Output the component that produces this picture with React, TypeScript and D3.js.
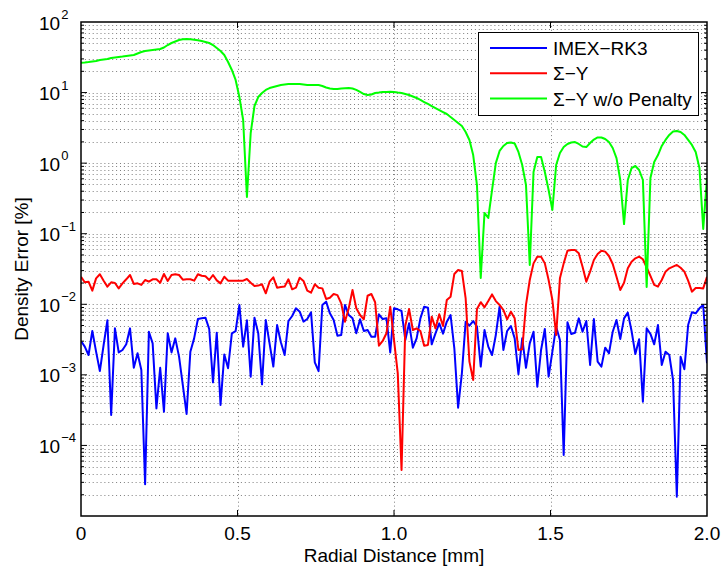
import React from "react";
import * as d3 from "d3";

// x ticks / labels
const xTicks = [0, 0.5, 1.0, 1.5, 2.0];
const xTickLabels = ["0", "0.5", "1.0", "1.5", "2.0"];
// labelled decades (exponents)
const yDecades = [2, 1, 0, -1, -2, -3, -4];
const seriesNames = ["IMEX\u2212RK3", "\u03A3\u2212Y", "\u03A3\u2212Y w/o Penalty"];
const seriesColors = ["#0000ff", "#ff0000", "#00ff00"];
// sample spacing of the radial grid (mm)
const xStep = 2 / 166;

const imexRk3 = [
  3.02e-3, 2.51e-3, 1.91e-3, 4.18e-3, 2.13e-3, 1.13e-3, 2.65e-3, 5.92e-3, 2.7e-4, 4.56e-3,
  2.08e-3, 2.25e-3, 2.71e-3, 4.56e-3, 1.26e-3, 2.02e-3, 1.17e-3, 2.81e-5, 4.09e-3, 2.79e-3,
  3.35e-4, 1.26e-3, 3.01e-4, 3.88e-3, 2.08e-3, 3.29e-3, 1.81e-3, 7.18e-4, 2.79e-4, 2.13e-3,
  3.29e-3, 6.18e-3, 6.32e-3, 6.46e-3, 4.47e-3, 7.83e-4, 3.96e-3, 3.74e-4, 1.95e-3, 1.24e-3,
  3.88e-3, 4.18e-3, 9.78e-3, 2.51e-3, 5.92e-3, 9.42e-4, 6.46e-3, 3.88e-3, 7.34e-4, 5.98e-3,
  2.79e-3, 1.31e-3, 5.08e-3, 2.89e-3, 1.91e-3, 5.79e-3,
  6.82e-3, 8.77e-3, 7.86e-3, 5.67e-3, 6.18e-3, 7.69e-3, 1.5e-3, 1.13e-3, 9.78e-3, 1.09e-2,
  7.44e-3, 5.98e-3, 3.59e-3, 3.67e-3, 9.78e-3, 7.05e-3, 6.32e-3, 3.88e-3, 6.12e-3, 4.18e-3,
  4.32e-3, 3.47e-3, 3.47e-3, 7.21e-3, 6.18e-3, 6.32e-3, 2.08e-3, 8.77e-3, 8.48e-3, 8.03e-3,
  3.12e-3, 5.37e-3, 2.43e-3, 3.29e-3, 6.32e-3, 9.25e-3, 8.95e-3, 2.71e-3, 3.88e-3, 5.37e-3,
  3.84e-3, 5.67e-3, 7.05e-3, 2.38e-3, 3.43e-4, 1.05e-3, 5.67e-3, 4.97e-3, 5.79e-3, 4.82e-3,
  1.31e-3, 4.32e-3, 2.51e-3, 1.91e-3, 3.67e-3, 9.25e-3,
  2.25e-3, 4.18e-3, 4.92e-3, 3.29e-3, 1.02e-3, 3.29e-3, 1.26e-3, 2.79e-3, 4.09e-3, 6.8e-4,
  2.25e-3, 4.47e-3, 9.42e-4, 2.13e-3, 4.82e-3, 3.12e-3, 7.31e-5, 5.55e-3, 3.8e-3, 3.96e-3,
  6.32e-3, 4.09e-3, 5.79e-3, 1.38e-3, 6.18e-3, 1.54e-3, 1.31e-3, 2.43e-3, 2.02e-3, 4.09e-3,
  5.98e-3, 3.22e-3, 6.32e-3, 7.61e-3, 4.18e-3, 1.97e-3, 3.19e-3, 4.17e-4, 4.56e-3, 3.8e-3,
  2.71e-3, 5.08e-3, 1.38e-3, 2.13e-3, 1.91e-3, 8.45e-4, 1.88e-5, 1.81e-3, 1.2e-3, 5.08e-3,
  7.69e-3, 7.44e-3, 8.77e-3, 9.78e-3, 1.46e-3,
];

const sigmaY = [
  0.0246, 0.0205, 0.0209, 0.0156, 0.0233, 0.0266, 0.0216, 0.0178, 0.0205, 0.02,
  0.0168, 0.0198, 0.0226, 0.026, 0.0194, 0.0198, 0.0188, 0.0221, 0.0209, 0.0226,
  0.0226, 0.0202, 0.0269, 0.0214, 0.026, 0.0266, 0.026, 0.0223, 0.0226, 0.0226,
  0.0216, 0.0266, 0.0254, 0.0249, 0.0221, 0.026, 0.0218, 0.0198, 0.0246, 0.0216,
  0.0216, 0.0216, 0.0216, 0.0216, 0.0228, 0.0202, 0.0182, 0.0184, 0.0192, 0.0143,
  0.0209, 0.0241, 0.0172, 0.0176, 0.0178, 0.0226,
  0.0163, 0.0172, 0.0238, 0.0214, 0.0156, 0.0146, 0.0192, 0.0172, 0.0168, 0.0119,
  0.0124, 0.014, 0.0135, 0.0103, 0.00567, 0.00877, 0.0159, 0.00877, 0.00705, 0.00612,
  0.0132, 0.014, 0.0107, 0.00259, 0.00302, 0.00388, 0.00925, 0.00312, 0.00105, 4.49e-5,
  0.00497, 0.00857, 0.00432, 0.00456, 0.00418, 0.00259, 0.00265, 0.00668, 0.00456, 0.00721,
  0.00492, 0.0115, 0.0128, 0.0269, 0.0306, 0.0296, 0.0121, 0.00154, 0.000845, 0.00857,
  0.0107, 0.00905, 0.0111, 0.0138, 0.0111, 0.00978,
  0.0083, 0.00612, 0.00786, 0.00632, 0.00225, 0.0023, 0.00978, 0.0221, 0.038, 0.0473,
  0.0473, 0.038, 0.0221, 0.0115, 0.00367, 0.0233, 0.038, 0.0575, 0.0587, 0.0587,
  0.0527, 0.0341, 0.0209, 0.029, 0.0424, 0.0515, 0.0575, 0.0557, 0.0483, 0.0372,
  0.0246, 0.0159, 0.0202, 0.0323, 0.0402, 0.0448, 0.0473, 0.0434, 0.0334, 0.0252,
  0.0188, 0.0178, 0.0221, 0.029, 0.0323, 0.0341, 0.0361, 0.033, 0.029, 0.0216,
  0.0151, 0.017, 0.017, 0.0168, 0.0246,
];

const sigmaYNoPenalty = [
  26.5, 26.7, 27.1, 27.6, 28.0, 28.9, 29.4, 29.9, 30.9, 31.4,
  31.9, 32.4, 33.0, 33.5, 34.1, 35.8, 37.6, 38.8, 39.4, 40.1,
  40.8, 41.4, 43.5, 47.2, 50.4, 52.9, 55.6, 57.0, 57.4, 56.9,
  56.0, 55.2, 53.8, 52.1, 50.4, 47.2, 42.8, 38.8, 34.1, 27.1,
  20.9, 15.1, 8.65, 4.09, 0.331, 2.67, 6.45, 8.65, 9.86, 10.9,
  11.6, 12.0, 12.4, 12.8, 13.0, 13.2, 13.2, 13.2, 13.2, 13.0,
  12.8, 12.8, 12.8, 12.8, 12.4, 11.8, 11.4, 11.2, 11.2, 11.4,
  11.5, 11.6, 11.4, 10.9, 10.2, 9.54, 9.24, 9.39, 9.86, 10.0,
  10.2, 10.2, 10.3, 10.2, 10.0, 9.86, 9.54, 9.24, 8.8, 8.38,
  7.85, 7.35, 6.89, 6.45, 6.04, 5.66, 5.3, 4.97, 4.51, 4.09,
  3.7, 3.36, 2.76, 2.13, 1.3, 0.49, 0.0236, 0.197, 0.167, 0.416,
  1.0, 1.49, 1.75, 1.93, 1.96, 1.9, 1.44, 0.941, 0.49, 0.036,
  0.749, 1.22, 1.22, 0.749, 0.416, 0.217, 0.941, 1.39, 1.69, 1.87,
  1.96, 1.99, 1.87, 1.72, 1.69, 1.93, 2.16, 2.31, 2.31, 2.2,
  1.99, 1.64, 1.18, 0.577, 0.137, 0.577, 0.853, 0.911, 0.8, 0.577,
  0.0176, 0.616, 1.04, 1.3, 1.75, 2.13, 2.51, 2.81, 2.85, 2.76,
  2.51, 2.13, 1.81, 1.44, 0.853, 0.117, 0.616,
];

const W = 722;
const H = 567;
const left = 81;
const right = 707;
const top = 22;
const bottom = 516;
const font = "'Liberation Sans', Arial, Helvetica, sans-serif";

export default function App() {
  const x = d3.scaleLinear().domain([0, 2]).range([left, right]);
  const y = d3.scaleLog().domain([1e-5, 1e2]).range([bottom, top]);

  const allSeries = [imexRk3, sigmaY, sigmaYNoPenalty];
  const line = d3
    .line<number>()
    .x((_, i) => x(i * xStep))
    .y((d) => y(d));

  // log grid values: 1..9 x 10^k
  const gridVals: number[] = [];
  for (let k = -5; k <= 1; k++) {
    for (let m = 1; m <= 9; m++) {
      const v = m * Math.pow(10, k);
      if (v > 1e-5) gridVals.push(v);
    }
  }

  return (
    <svg
      width={W}
      height={H}
      style={{ position: "absolute", left: 0, top: 0, background: "#fff" }}
      fontFamily={font}
    >
      <rect x={0} y={0} width={W} height={H} fill="#fff" />
      <defs>
        <clipPath id="plotClip">
          <rect x={left} y={top} width={right - left} height={bottom - top} />
        </clipPath>
      </defs>

      {/* horizontal dotted grid */}
      <g stroke="#000" strokeWidth={1} strokeDasharray="1,2.9" opacity={0.5}>
        {gridVals.map((v, i) => (
          <line key={i} x1={left} x2={right} y1={Math.round(y(v)) + 0.5} y2={Math.round(y(v)) + 0.5} />
        ))}
      </g>
      {/* vertical dotted grid at major x ticks */}
      <g stroke="#000" strokeWidth={1} strokeDasharray="1,2.9" opacity={0.5}>
        {xTicks.slice(1, -1).map((t, i) => (
          <line key={i} x1={Math.round(x(t)) + 0.5} x2={Math.round(x(t)) + 0.5} y1={top} y2={bottom} />
        ))}
      </g>

      {/* data */}
      <g clipPath="url(#plotClip)" fill="none" strokeWidth={2} strokeLinejoin="round">
        {allSeries.map((s, k) => (
          <path key={k} d={line(s) || ""} stroke={seriesColors[k]} />
        ))}
      </g>

      {/* axes box */}
      <rect x={left} y={top} width={right - left} height={bottom - top} fill="none" stroke="#000" strokeWidth={1.5} />

      {/* ticks */}
      <g stroke="#000" strokeWidth={1}>
        {xTicks.slice(1, -1).map((t, i) => (
          <g key={i}>
            <line x1={x(t)} x2={x(t)} y1={bottom} y2={bottom - 6} />
            <line x1={x(t)} x2={x(t)} y1={top} y2={top + 6} />
          </g>
        ))}
        {gridVals.map((v, i) => {
          const major = Math.abs(Math.log10(v) - Math.round(Math.log10(v))) < 1e-9;
          const len = major ? 6 : 3;
          return (
            <g key={i}>
              <line x1={left} x2={left + len} y1={y(v)} y2={y(v)} />
              <line x1={right} x2={right - len} y1={y(v)} y2={y(v)} />
            </g>
          );
        })}
      </g>

      {/* x tick labels */}
      <g fontSize={19} textAnchor="middle" fill="#000">
        {xTicks.map((t, i) => (
          <text key={i} x={x(t)} y={540}>
            {xTickLabels[i]}
          </text>
        ))}
      </g>

      {/* y tick labels */}
      <g fill="#000">
        {yDecades.map((e) => (
          <text key={e} x={39} y={y(Math.pow(10, e)) + 7.5} fontSize={19}>
            10
            <tspan fontSize={13} dy={-10.5} dx={1}>
              {e < 0 ? "\u2212" + Math.abs(e) : String(e)}
            </tspan>
          </text>
        ))}
      </g>

      {/* axis labels */}
      <text x={(left + right) / 2} y={562} textAnchor="middle" fontSize={19} fill="#000">
        Radial Distance [mm]
      </text>
      <text
        transform={`translate(28,${(top + bottom) / 2}) rotate(-90)`}
        textAnchor="middle"
        fontSize={19}
        fill="#000"
      >
        Density Error [%]
      </text>

      {/* legend */}
      <g>
        <rect x={478.5} y={32.5} width={220} height={83} fill="#fff" stroke="#000" strokeWidth={1} />
        {seriesNames.map((n, i) => {
          const ly = 48 + i * 25.3;
          return (
            <g key={i}>
              <line x1={490} x2={547} y1={ly} y2={ly} stroke={seriesColors[i]} strokeWidth={2} />
              <text x={553} y={ly + 7} fontSize={19} fill="#000">
                {n}
              </text>
            </g>
          );
        })}
      </g>
    </svg>
  );
}
